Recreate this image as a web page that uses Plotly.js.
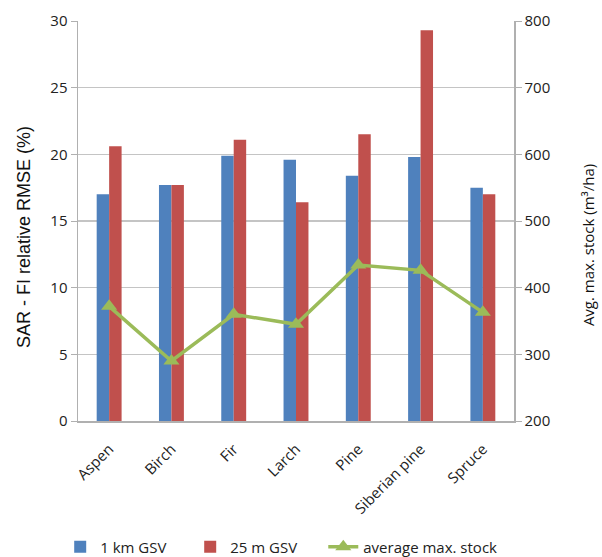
<!DOCTYPE html>
<html>
<head>
<meta charset="utf-8">
<script src="https://cdn.plot.ly/plotly-3.0.1.min.js"></script>
<style>
  html, body { margin: 0; padding: 0; background: #fff; }
  #chart { width: 602px; height: 557px; }
</style>
</head>
<body>
<div id="chart"></div>
<script>
// Tree species
const species = ["Aspen", "Birch", "Fir", "Larch", "Pine", "Siberian pine", "Spruce"];
// Relative RMSE (%) of SAR vs. forest inventory
const rmse1km = [17.0, 17.7, 19.9, 19.6, 18.4, 19.8, 17.5];
const rmse25m = [20.6, 17.7, 21.1, 16.4, 21.5, 29.3, 17.0];
// Average maximum growing stock (m³/ha)
const avgMaxStock = [372, 290, 360, 345, 434, 426, 363];

const leftTicks = [0, 5, 10, 15, 20, 25, 30];
const rightTicks = [200, 300, 400, 500, 600, 700, 800];

const baseFont = "Open Sans, Liberation Sans, sans-serif";
const tickFont = { family: baseFont, size: 15, color: "#222" };
const legendFont = { family: baseFont, size: 15, color: "#222" };

const traces = [
  {
    type: "bar", name: "1 km GSV", x: species, y: rmse1km,
    marker: { color: "#4F81BD" }, yaxis: "y", legend: "legend"
  },
  {
    type: "bar", name: "25 m GSV", x: species, y: rmse25m,
    marker: { color: "#C0504D" }, yaxis: "y", legend: "legend"
  },
  {
    type: "scatter", mode: "lines+markers", name: "average max. stock",
    x: species, y: avgMaxStock, yaxis: "y2", legend: "legend2",
    line: { color: "#9BBB59", width: 3.5 },
    marker: { symbol: "triangle-up", size: 14, color: "#9BBB59" }
  }
];

const layout = {
  width: 602, height: 557,
  margin: { l: 78, r: 88, t: 21, b: 136 },
  paper_bgcolor: "#fff", plot_bgcolor: "#fff",
  barmode: "group", bargap: 0.6, bargroupgap: 0,
  showlegend: true,
  // bar series legend
  legend: {
    orientation: "h", xref: "container", yref: "container",
    x: 0.1, xanchor: "left", y: 0.018, yanchor: "middle",
    font: legendFont, traceorder: "normal",
    entrywidth: 85, entrywidthmode: "pixels"
  },
  // line series legend
  legend2: {
    orientation: "h", xref: "container", yref: "container",
    x: 0.537, xanchor: "left", y: 0.018, yanchor: "middle",
    font: legendFont
  },
  xaxis: {
    type: "category", tickangle: -45, tickfont: tickFont, automargin: false,
    ticklabelstandoff: 12,
    showline: true, linecolor: "#b0b0b0", linewidth: 1.5,
    ticks: "", showgrid: false
  },
  yaxis: {
    range: [0, 30], tickvals: leftTicks, ticktext: leftTicks.map(String), automargin: false,
    tickfont: tickFont, ticks: "outside", ticklen: 6, tickcolor: "#b0b0b0",
    showline: true, linecolor: "#b0b0b0", linewidth: 1.5,
    showgrid: true, gridcolor: "#c4c4c4", gridwidth: 1.5, zeroline: false
  },
  yaxis2: {
    overlaying: "y", side: "right", range: [200, 800], automargin: false,
    tickvals: rightTicks, ticktext: rightTicks.map(String),
    tickfont: tickFont, ticks: "outside", ticklen: 6, tickcolor: "#b0b0b0",
    showline: true, linecolor: "#b0b0b0", linewidth: 1.5,
    showgrid: false, zeroline: false
  },
  annotations: [
    {
      text: "SAR - FI relative RMSE (%)", textangle: -90, showarrow: false,
      xref: "paper", yref: "paper", x: -0.124, y: 0.46, xanchor: "center", yanchor: "middle",
      font: { family: "Liberation Sans, Arial, sans-serif", size: 18, color: "#111" }
    },
    {
      text: "Avg. max. stock (m³/ha)", textangle: -90, showarrow: false,
      xref: "paper", yref: "paper", x: 1.17, y: 0.44, xanchor: "center", yanchor: "middle",
      font: { family: baseFont, size: 15, color: "#111" }
    }
  ]
};

Plotly.newPlot("chart", traces, layout, { displayModeBar: false, staticPlot: true });
</script>
</body>
</html>
